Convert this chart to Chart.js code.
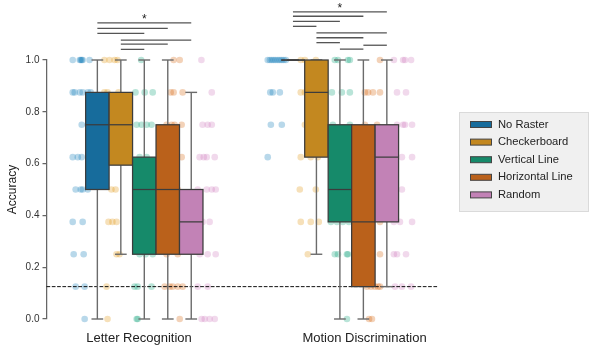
<!DOCTYPE html>
<html><head><meta charset="utf-8">
<script src="https://cdn.jsdelivr.net/npm/chart.js@4.4.1/dist/chart.umd.min.js"></script>
<style>html,body{margin:0;padding:0;background:#fff}#wrap{width:594px;height:355px;position:relative}</style>
</head><body><div id="wrap"><canvas id="c" width="594" height="355"></canvas></div>
<script>
// ---------- data ----------
const groups = ["Letter Recognition", "Motion Discrimination"];
const groupLabelPos = [-0.027, 1.126];   // where the category labels sit on the axis (as in the reference)
const series = ["No Raster", "Checkerboard", "Vertical Line", "Horizontal Line", "Random"];
const yTicks = [0, 0.2, 0.4, 0.6, 0.8, 1.0];
const chanceLevel = 0.125;

// box stats per group: [whiskerLow, q1, median, q3, whiskerHigh]
const statsNoRaster     = [[0, 0.5, 0.75, 0.875, 1], [1, 1, 1, 1, 1]];
const statsCheckerboard = [[0.25, 0.594, 0.75, 0.875, 1], [0.25, 0.625, 0.875, 1, 1]];
const statsVertical     = [[0, 0.25, 0.5, 0.625, 1], [0, 0.375, 0.5, 0.75, 1]];
const statsHorizontal   = [[0, 0.25, 0.5, 0.75, 1], [0, 0.125, 0.375, 0.75, 1]];
const statsRandom       = [[0, 0.25, 0.375, 0.5, 0.875], [0.125, 0.375, 0.625, 0.75, 1]];

// individual scores: [accuracy, jitter (category units)]
const ptsNoRaster = [
  [[1,-0.046],[1,-0.010],[1,-0.005],[1,0],[1,0.005],[1,0.040],[0.875,-0.046],[0.875,-0.036],[0.875,-0.010],[0.875,0.005],[0.875,0.031],[0.875,0.046],
   [0.75,0],[0.75,0.031],[0.625,-0.046],[0.625,-0.020],[0.625,0],[0.625,0.040],[0.5,-0.031],[0.5,-0.005],[0.5,0.005],[0.5,0.031],
   [0.375,-0.046],[0.375,0.005],[0.25,-0.041],[0.25,0.010],[0.125,-0.031],[0.125,0.015],[0,0.015]],
  [[1,-0.049],[1,-0.038],[1,-0.028],[1,-0.018],[1,-0.008],[1,0.003],[1,0.013],[1,0.023],[1,0.033],[1,0.044],
   [0.875,-0.036],[0.875,-0.023],[0.875,0.013],[0.75,-0.033],[0.75,0.023],[0.625,-0.049]]
];
const ptsCheckerboard = [
  [[1,-0.044],[1,-0.018],[1,0.008],[1,0.023],[0.875,-0.044],[0.875,-0.028],[0.875,0.028],[0.75,-0.033],[0.75,-0.003],[0.75,0.023],
   [0.625,-0.018],[0.625,0.033],[0.5,-0.008],[0.5,0.013],[0.375,-0.023],[0.375,-0.003],[0.375,0.018],[0.25,0.018],[0.25,0.033],
   [0.125,-0.033],[0,-0.028]],
  [[1,-0.040],[1,-0.019],[1,0.037],[0.875,-0.040],[0.875,-0.019],[0.875,0.032],[0.75,-0.019],[0.75,0.032],[0.625,-0.040],[0.625,0.011],[0.625,0.047],
   [0.5,-0.045],[0.5,0.037],[0.375,-0.040],[0.375,0.011],[0.375,0.052],[0.25,-0.004]]
];
const ptsVertical = [
  [[1,-0.016],[0.875,-0.045],[0.875,0.002],[0.875,0.043],[0.75,-0.039],[0.75,-0.014],[0.75,0.012],[0.75,0.037],[0.625,-0.024],[0.625,0.012],
   [0.5,-0.034],[0.5,0.002],[0.5,0.027],[0.375,-0.029],[0.375,0.007],[0.375,0.032],[0.25,-0.024],[0.25,0.007],[0.25,0.043],
   [0.125,-0.050],[0.125,-0.034],[0.125,0.037],[0,-0.039],[0,-0.034]],
  [[1,-0.026],[1,-0.010],[1,0.041],[1,0.051],[0.875,-0.041],[0.875,0.010],[0.875,0.051],[0.75,-0.036],[0.75,0.051],[0.625,-0.026],[0.625,0.026],
   [0.5,-0.015],[0.5,0.031],[0.375,-0.046],[0.375,-0.015],[0.375,0.015],[0.375,0.046],[0.25,-0.026],[0.25,-0.010],[0.25,0.036],[0.25,0.041],[0,0.036]]
];
const ptsHorizontal = [
  [[1,-0.010],[1,0.021],[0.875,-0.025],[0.875,-0.010],[0.875,0.036],[0.75,-0.046],[0.75,-0.020],[0.75,-0.005],[0.75,0.031],[0.625,-0.020],[0.625,0.031],
   [0.5,-0.030],[0.5,0.011],[0.375,-0.040],[0.375,0.031],[0.25,-0.046],[0.25,0.011],
   [0.125,-0.056],[0.125,-0.030],[0.125,-0.015],[0.125,0.011],[0.125,0.036],[0,0.021]],
  [[1,0.045],[0.875,-0.032],[0.875,-0.016],[0.875,0.009],[0.875,0.045],[0.75,-0.032],[0.75,0.030],[0.625,-0.006],[0.5,-0.032],[0.5,0.004],
   [0.375,-0.042],[0.375,0.045],[0.25,-0.042],[0.25,-0.006],[0.25,0.045],
   [0.125,-0.022],[0.125,-0.001],[0.125,0.019],[0.125,0.035],[0.125,0.045],[0,-0.011],[0,0.004]]
];
const ptsRandom = [
  [[1,-0.028],[0.875,0.025],[0.75,-0.022],[0.75,0.004],[0.75,0.025],[0.625,-0.037],[0.625,-0.016],[0.625,-0.001],[0.625,0.040],
   [0.5,-0.047],[0.5,-0.001],[0.5,0.025],[0.5,0.045],[0.375,-0.047],[0.375,-0.022],[0.375,0.014],[0.25,-0.037],[0.25,0.004],[0.25,0.045],
   [0.125,-0.047],[0.125,0.004],[0,-0.027],[0,-0.011],[0,0.014],[0,0.040]],
  [[1,-0.044],[1,0.003],[1,0.013],[1,0.044],[0.875,-0.028],[0.875,0.018],[0.75,-0.028],[0.75,0.003],[0.75,0.013],[0.75,0.049],
   [0.625,-0.003],[0.625,0.049],[0.5,-0.044],[0.5,-0.003],[0.375,-0.044],[0.375,-0.013],[0.375,0.049],
   [0.25,-0.044],[0.25,-0.028],[0.25,0.018],[0.125,-0.038],[0.125,-0.003],[0.125,0.044]]
];

// significance brackets: [fromSeries, toSeries, level]
const sigLetter = [[0,4,1.143],[0,3,1.122],[0,2,1.103],[1,4,1.077],[1,3,1.061],[1,2,1.041]];
const sigMotion = [[0,4,1.186],[0,3,1.169],[0,2,1.149],[0,1,1.130],[1,4,1.105],[1,3,1.086],[1,2,1.067],[3,4,1.057],[2,3,1.042]];
const starLevels = [1.165, 1.205];
const starText = "*";

// ---------- styles ----------
const FONT = "'Liberation Sans', Arial, sans-serif";
const pointColors = ['rgba(1,115,178,0.28)','rgba(222,143,5,0.28)','rgba(2,158,115,0.28)','rgba(213,94,0,0.28)','rgba(204,120,188,0.28)'];
const boxFill = ['rgb(23,108,156)','rgb(195,136,32)','rgb(22,138,106)','rgb(186,97,27)','rgb(194,130,182)'];
const allStats = [statsNoRaster, statsCheckerboard, statsVertical, statsHorizontal, statsRandom];
const allPts = [ptsNoRaster, ptsCheckerboard, ptsVertical, ptsHorizontal, ptsRandom];
const allSig = [sigLetter, sigMotion];
const boxWidth = 0.12, boxStep = 0.12, stripStep = 0.16;

const datasets = series.map((name, s) => ({
  type: 'scatter',
  label: name,
  data: allPts[s].flatMap((grp, g) => grp.map(([v, j]) => ({x: g + (s - 2) * stripStep + j, y: v}))),
  backgroundColor: pointColors[s],
  borderWidth: 0,
  pointRadius: 3.3,
  clip: false
}));

function seg(ctx, x1, y1, x2, y2) { ctx.beginPath(); ctx.moveTo(x1, y1); ctx.lineTo(x2, y2); ctx.stroke(); }

const boxPlugin = {
  id: 'boxes',
  afterDatasetsDraw(chart) {
    const {ctx, chartArea: a, scales: {x, y}} = chart;
    ctx.save();
    ctx.setLineDash([3.7, 1.6]); ctx.strokeStyle = '#111'; ctx.lineWidth = 1;
    const cy = y.getPixelForValue(chanceLevel);
    seg(ctx, a.left, cy, a.right, cy);
    ctx.setLineDash([]);
    allStats.forEach((st, s) => {
      st.forEach((b, g) => {
        const c = g + (s - 2) * boxStep;
        const xl = x.getPixelForValue(c - boxWidth / 2), xr = x.getPixelForValue(c + boxWidth / 2);
        const xc = x.getPixelForValue(c);
        const cl = x.getPixelForValue(c - boxWidth / 4), cr = x.getPixelForValue(c + boxWidth / 4);
        const [lo, q1, med, q3, hi] = b.map(v => y.getPixelForValue(v));
        ctx.strokeStyle = '#6b6b6b'; ctx.lineWidth = 1.4;
        seg(ctx, xc, q1, xc, lo); seg(ctx, xc, q3, xc, hi);
        seg(ctx, cl, lo, cr, lo); seg(ctx, cl, hi, cr, hi);
        ctx.fillStyle = boxFill[s];
        ctx.fillRect(xl, q3, xr - xl, q1 - q3);
        ctx.strokeStyle = '#3c3c3c'; ctx.lineWidth = 1.25;
        ctx.strokeRect(xl, q3, xr - xl, q1 - q3);
        seg(ctx, xl, med, xr, med);
      });
    });
    ctx.strokeStyle = '#555'; ctx.lineWidth = 1.3;
    allSig.forEach((sig, g) => {
      sig.forEach(([f, t, lv]) => {
        const py = y.getPixelForValue(lv);
        seg(ctx, x.getPixelForValue(g + (f - 2) * boxStep), py, x.getPixelForValue(g + (t - 2) * boxStep), py);
      });
      ctx.fillStyle = '#222'; ctx.font = '12px ' + FONT; ctx.textAlign = 'center'; ctx.textBaseline = 'middle';
      ctx.fillText(starText, x.getPixelForValue(g), y.getPixelForValue(starLevels[g]) + 2);
    });
    ctx.restore();
  },
  afterDraw(chart) {
    const ctx = chart.ctx;
    ctx.save();
    const lx = 459.5, ly = 112.5, lw = 129, lh = 99;
    ctx.fillStyle = '#f0f0f0'; ctx.fillRect(lx, ly, lw, lh);
    ctx.strokeStyle = '#dadada'; ctx.lineWidth = 1; ctx.strokeRect(lx, ly, lw, lh);
    ctx.font = '11.2px ' + FONT; ctx.textBaseline = 'middle'; ctx.textAlign = 'left';
    series.forEach((name, s) => {
      const ry = 124.5 + s * 17.6;
      ctx.fillStyle = boxFill[s]; ctx.fillRect(470.5, ry - 3, 21, 6);
      ctx.strokeStyle = '#444'; ctx.strokeRect(470.5, ry - 3, 21, 6);
      ctx.fillStyle = '#222'; ctx.fillText(name, 498, ry);
    });
    ctx.restore();
  }
};

new Chart(document.getElementById('c'), {
  type: 'scatter',
  data: {datasets},
  options: {
    responsive: false, animation: false, devicePixelRatio: 1, events: [],
    layout: {padding: {left: 0, top: 60, right: 156.3, bottom: 0}},
    plugins: {legend: {display: false}, tooltip: {enabled: false}},
    scales: {
      x: {
        type: 'linear', min: -0.5, max: 1.5,
        afterBuildTicks: s => { s.ticks = groupLabelPos.map(p => ({value: p})); },
        afterFit: s => { s.height = 36; },
        ticks: {callback: (v, i) => groups[i], font: {size: 13, family: FONT}, color: '#222', padding: 11.5, maxRotation: 0, autoSkip: false},
        grid: {display: false, drawTicks: false},
        border: {display: false}
      },
      y: {
        min: 0, max: 1,
        afterBuildTicks: s => { s.ticks = yTicks.map(v => ({value: v})); },
        afterFit: s => { s.width = 46.5; },
        ticks: {callback: v => Number(v).toFixed(1), font: {size: 10, family: FONT}, color: '#333', padding: 3},
        grid: {drawOnChartArea: false, drawTicks: true, tickLength: 4, color: '#666', lineWidth: 1.25},
        border: {display: true, color: '#666', width: 1.25},
        title: {display: true, text: 'Accuracy', font: {size: 12, family: FONT}, color: '#222', padding: {top: 5, bottom: 0}}
      }
    }
  },
  plugins: [boxPlugin]
});
</script>
</body></html>
